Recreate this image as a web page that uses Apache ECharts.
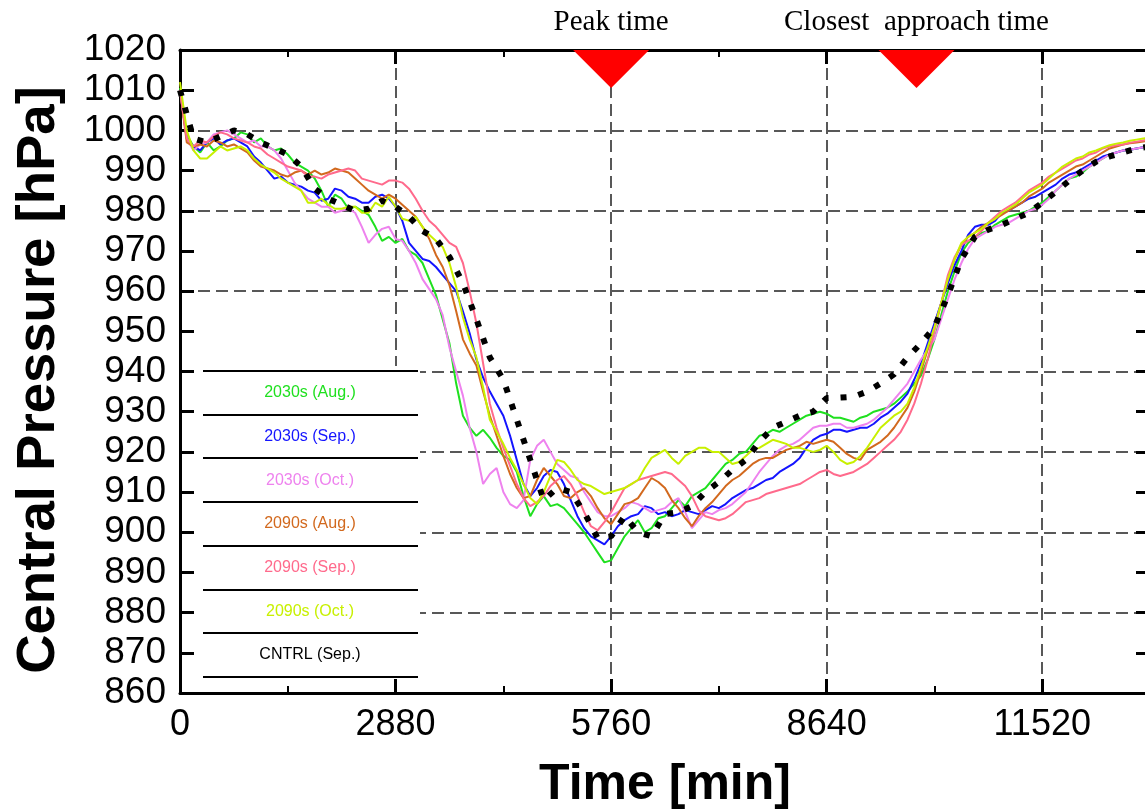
<!DOCTYPE html>
<html>
<head>
<meta charset="utf-8">
<script src="https://cdn.jsdelivr.net/npm/echarts@6/dist/echarts.min.js"></script>
<style>
html,body{margin:0;padding:0;background:#fff;}
#chart{width:1145px;height:811px;}
</style>
</head>
<body>
<div id="chart"></div>
<script>
// time step of the model output samples (minutes)
const timeStep = 90;
const xTickLabels = ['0','2880','5760','8640','11520'];
const seriesNames = ['2030s (Aug.)','2030s (Sep.)','2030s (Oct.)','2090s (Aug.)','2090s (Sep.)','2090s (Oct.)','CNTRL (Sep.)'];

// central pressure (hPa), every 90 min
const aug2030 = [1010.5,999,996,994.5,997,995,996,997.5,998,999.5,
999,997,998,996,995,995.5,994,992,991,990,
988,985,981,984,983,980.5,981,980,979,976,
972.5,973.5,972,973,970,969,967,963,959,953,
947,937,929,926,924,925.5,923.5,921,919,918,
915,909,904,907,909,906.5,907,906,904,902,
900,897.5,895,892.5,893,896,899,901,903,900,
901,903.5,904,906,908,906.5,909,910,911,913,
915,917,918,919.5,920,922,924,924.5,925.5,925,
926,927,928,929,929.5,930,929.5,928.5,928.5,928,
927.5,928.5,929,930,930.5,931,932,933.5,935,937,
939,943,948,954,960,965,969.5,972,973.5,974.5,
975,976.5,977.5,978.5,979,979.5,980,981,982,983.5,
985,986.5,988,988.5,989.5,991,992,993,994,994.5,
995,995.2,995.5,995.8,996];
const sep2030 = [1010,998,996,995,997,998,996.5,997.5,998,997,
996,993.5,992,990,988,988.5,987,986.5,986,985,
984.5,982.5,983,985.5,985,983.5,983,982,982,983.5,
984,983,981,977.5,972,970,968,967.5,966,964,
962,960,955,949.5,943,938.5,935,932,929,924,
918,912,909,911,914,915.5,915,912,908,904,
901,899,898,897,899,901.5,903,904,904.5,906.5,
906,904.5,905,904,904.5,905.5,905,904.5,905.5,906.5,
906,907,908.5,909.5,910.5,911,912,913,913.5,915,
916,917,918.5,921,923,924,924.5,925.5,925.5,925,
925.5,926,926,927,928.5,929.5,931,932.5,934.5,938,
942,947,952,957,962,966.5,970,974,976,976.5,
976.5,977.5,979.5,980,981,982,983,983.5,984.5,985.5,
986.5,988,989,989.5,990.5,991.5,992.5,993.5,994,994.5,
995,995.2,995.5,995.8,996];
const oct2030 = [1010,998,995,996.5,997,999,999.5,1000,999,998,
997,997.5,996,996,995,993,990,987,985,983,
982,981,981,979.5,980,980.5,979.5,976,972,974,
975.5,976,973,972.5,970,967,963,960.5,958,954,
946,940,934,926,920,912,914.5,916,910,907,
906,908,918,921.5,923,920,917,915.5,914,913.5,
910,907.5,905,904,904,905,906,907.5,907,906,
905,905.5,906,907.5,908.5,905,901,903,905,904.5,
905.5,906,907,908.5,910,912.5,915,917,919,920.5,
921.5,922,923,924.5,926,926.5,926.5,927,927,926,
926,926.5,927,928,929.5,931,933,935,937,940,
943,945.5,948,953,958,963,967,970.5,973,974,
975,976,976.5,977,978,979,980,980.5,981.5,983,
985,986.5,988,989,990,991,992,993,994,994.5,
995,995.2,995.5,995.8,996];
const aug2090 = [1010,997,996,996.5,996,997.5,997,996,996.5,995.5,
994.5,992.5,991,990.5,990,989,988.5,989.5,990,989,
990,989,989.5,990.5,990,989.5,988,986.5,985,984,
983,984,983,981.5,980,978.5,976,973,969,966,
961.5,955,948,944.5,941.5,935,929,924,919,914.5,
911,908.5,909,913,916,914,912,909,908.5,910,
911,909,906,903.5,902,904.5,907,907.5,908.5,911,
913.5,912.5,911,908,906,903.5,901.5,904,906,907.5,
909.5,911.5,913,914,915.5,917,918,918.5,918.5,919.5,
920.5,921,921.5,922.5,922,922.5,923,922.5,921,919.5,
918.5,918,920.5,921.5,922.5,924,926,928.5,931,935,
940,945.5,951,957,963,968,971.5,973.5,974.5,976,
977,978,979,980,981,982,983.5,984.5,985.5,987,
988,989,990,991,991.5,992.5,993.5,994.5,995.5,996,
996.5,996.8,997,997.2,997.5];
const sep2090 = [1010,998,996,997.5,997,998.5,999.5,999,998,997.5,
997,996,995.5,994,993,992,991,990.5,990,988.5,
988.5,988,989,989.5,990,990.5,990,988,987.5,987,
986.5,987.5,987.5,987,985.5,983,980,977.5,976,974,
972,971,967,960,952,942,932,926,921,916.5,
912,908.5,906.5,907.5,909,911.5,913,914,912,909,
905,901.5,900.5,902.5,905,908,911,912,913,913.5,
914,914.5,915,914.5,913,911.5,909,905.5,904,903.5,
903,903.5,904.5,906,907.5,908,908.5,909.5,910,910.5,
911,911.5,912,913,914,915,915.5,914.5,914,914.5,
915,916,917,918.5,920,921.5,923,925,928,932,
937,943,950,957,964,968.5,971.5,972.5,973.5,975,
977,978.5,980,981,982,983.5,985,986,987,988.5,
989.5,990.5,991.5,992.5,993,994,994.5,995.5,996,996.3,
996.5,996.9,997.2,997.5,997.8];
const oct2090 = [1012,1000,995,993,993,994.5,996,995,995.5,996,
995,993,991.5,990.5,989.5,988,987,986,985,982,
982,983,981.5,980.5,980.5,981,981,979.5,979.5,982,
981,983.5,981,978,977.5,978.5,976,974,972.5,971,
967,961,953.5,948,943.5,936,928,925,922,918.5,
915.5,912,908.5,907,910,914,918,917.5,915.5,913,
912,911.5,910.5,909.5,910,910.5,911,912,913,916,
918.5,919.5,920.5,918.5,917,919,920,921,921,920,
920,918.5,917,917.5,919,920.5,921,922,923,922.5,
922,921,921,920.5,920,920.5,921.5,920,918,917,
917.5,919,921,923.5,926,927.5,929,930,932,936,
941,946,951,957,963,968,972,973.5,974.5,975.5,
977,978,979.5,980.5,981.5,983,984.5,985.5,986.5,988,
989.5,991,992,993,993.5,994.5,995,995.7,996.3,996.7,
997,997.4,997.7,998,998.2];
// control run, every 180 min
const cntrlSep = [1010,998,997,998.5,1000,999,997,995.5,994,991,985.5,983,981.5,980,980.5,982.5,981,978.5,975,973,968.5,962,953,943.5,938,928,918,908,911,910,905,898.5,899,904,900,899,904.5,905,906.5,910,912.5,915.5,918,922.5,926,927.5,929,930,933.4,933.5,933.7,935,937,939.3,943.5,947,951,959,968,973.5,975.3,976.5,978,979.5,982,984.7,987.5,990,992.2,993.5,994.5,995.5,996];

const peakTime = 5760;
const closestApproachTime = 9840;

const colors = ['#1fe01f','#1414ff','#ee82ee','#d2691e','#ff6a8c','#c8f000','#000000'];
const seriesData = [aug2030, sep2030, oct2030, aug2090, sep2090, oct2090, cntrlSep];
const seriesStep = [timeStep, timeStep, timeStep, timeStep, timeStep, timeStep, timeStep * 2];

function pairs(arr, step){ return arr.map((v,i)=>[i * step, v]); }

const chart = echarts.init(document.getElementById('chart'), null, {renderer:'canvas'});

const FONT = '"Liberation Sans", Arial, sans-serif';

const series = seriesData.map((d, i) => {
  const isCtrl = i === 6;
  const s = {
    name: seriesNames[i],
    type: 'line',
    data: pairs(d, seriesStep[i]),
    showSymbol: false,
    symbol: 'none',
    animation: false,
    xAxisIndex: 0, yAxisIndex: 0,
    z: isCtrl ? 6 : 3 + i * 0.1,
    lineStyle: isCtrl
      ? {color: '#000', width: 6, type: [6, 12], cap: 'butt'}
      : {color: colors[i], width: 2},
    itemStyle: {color: colors[i]}
  };
  if (isCtrl) {
    s.markPoint = {
      symbol: 'triangle',
      symbolRotate: 180,
      symbolSize: [76, 38],
      symbolOffset: [0, 19],
      itemStyle: {color: '#ff0000'},
      label: {
        show: true, position: 'top', distance: 13,
        color: '#000', fontFamily: '"Liberation Serif", "Times New Roman", serif', fontSize: 29
      },
      data: [
        {coord: [peakTime, 1020], value: 'Peak time', label: {formatter: 'Peak time'}},
        {coord: [closestApproachTime, 1020], value: 'Closest approach time', label: {formatter: 'Closest  approach time'}}
      ],
      animation: false
    };
  }
  return s;
});

const legendTop = 371, legendRow = 43.7;
const graphic = [
  {type:'rect', z: 100, shape:{x:198, y:366, width:222, height:312}, style:{fill:'#fff'}}
];
for (let k = 0; k <= seriesNames.length; k++) {
  const y = Math.round(legendTop + k * legendRow);
  graphic.push({type:'line', z: 101, shape:{x1:203, y1:y, x2:418, y2:y}, style:{stroke:'#000', lineWidth:2}});
}
seriesNames.forEach((n, k) => {
  graphic.push({type:'text', z: 101, x: 310, y: legendTop + (k + 0.5) * legendRow,
    style:{text:n, fill: colors[k], font: '16px ' + FONT, align:'center', verticalAlign:'middle'}});
});

const axisTickStyle = {show:true, inside:true, length:14, lineStyle:{color:'#000', width:3}};
const minorTickStyle = {show:true, splitNumber:2, length:7, lineStyle:{color:'#000', width:2}};
const dashed = {color:'#222', width:1.5, type:[12,6]};

const option = {
  backgroundColor: '#fff',
  animation: false,
  grid: {left: 180, top: 50, width: 970, height: 643, containLabel: false, outerBoundsMode: 'none'},
  xAxis: [
    {
      type:'value', position:'bottom', min:0, max:12960, interval:2880,
      name:'Time [min]', nameLocation:'middle', nameGap:67,
      nameTextStyle:{fontFamily:FONT, fontWeight:'bold', fontSize:50, color:'#000'},
      axisLine:{show:true, onZero:false, lineStyle:{color:'#000', width:3}},
      axisTick: axisTickStyle, minorTick: minorTickStyle,
      axisLabel:{show:true, fontFamily:FONT, fontSize:36, color:'#000', margin:14,
        formatter: v => xTickLabels.indexOf(String(v)) >= 0 ? String(v) : ''},
      splitLine:{show:true, lineStyle: dashed},
      minorSplitLine:{show:false}
    },
    {
      type:'value', position:'top', min:0, max:12960, interval:2880,
      axisLine:{show:true, onZero:false, lineStyle:{color:'#000', width:3}},
      axisTick: axisTickStyle, minorTick: minorTickStyle,
      axisLabel:{show:false}, splitLine:{show:false}
    }
  ],
  yAxis: [
    {
      type:'value', position:'left', min:860, max:1020, interval:10,
      axisLine:{show:true, onZero:false, lineStyle:{color:'#000', width:3}},
      axisTick: axisTickStyle,
      axisLabel:{show:true, fontFamily:FONT, fontSize:37, color:'#000', margin:14, formatter: v => String(v)},
      splitLine:{show:false}
    },
    {
      type:'value', position:'right', min:860, max:1020, interval:10,
      axisLine:{show:true, onZero:false, lineStyle:{color:'#000', width:3}},
      axisTick: axisTickStyle,
      axisLabel:{show:false}, splitLine:{show:false}
    },
    {
      type:'value', position:'left', min:860, max:1020, interval:20,
      axisLine:{show:false}, axisTick:{show:false}, axisLabel:{show:false},
      splitLine:{show:true, lineStyle: dashed}
    }
  ],
  series: series,
  graphic: [
    ...graphic,
    {type:'text', z: 100, x: 39, y: 380, rotation: Math.PI/2,
      style:{text:'Central Pressure [hPa]', fill:'#000', font:'bold 54.5px ' + FONT, align:'center', verticalAlign:'middle'}}
  ]
};
chart.setOption(option);
</script>
</body>
</html>
